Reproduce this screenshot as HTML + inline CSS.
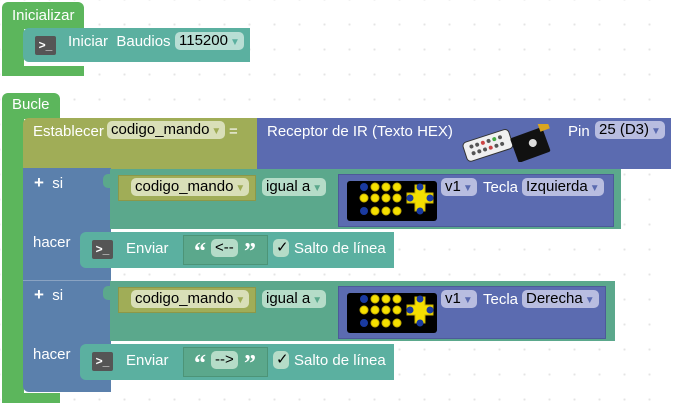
<!DOCTYPE html>
<html><head><meta charset="utf-8"><style>
*{margin:0;padding:0;box-sizing:border-box}
body{width:673px;height:409px;position:relative;overflow:hidden;background:#fff;
background-image:radial-gradient(circle,#e4e4e4 1px,transparent 1.2px);background-size:25px 25px;background-position:12px 12px;
font-family:"Liberation Sans",sans-serif;font-size:15px;color:#fff}
.a{position:absolute}
.g{background:#5cb65c}
.t{background:#5bb0a0}
.tc{background:#5ba88c}
.o{background:#a0ad57}
.b{background:#5b6bb0}
.bl{background:#5b80ac}
.lb{position:absolute;white-space:nowrap;line-height:17px}
.dd{position:absolute;border-radius:5px;color:#000;line-height:18px;height:18px;padding:0 4px;white-space:nowrap}
.ic{position:absolute;width:21px;height:19px;background:#555;border-radius:2px;color:#fff;font-weight:bold;font-size:12px;line-height:19px;text-align:center}
.arr{font-size:10px;margin-left:2px}
.q{position:absolute;font-family:"Liberation Serif",serif;font-weight:bold;font-size:24px;line-height:24px}
</style></head><body>
<!-- Inicializar -->
<div class="a g" style="left:2px;top:2px;width:82px;height:27px;border-radius:6px 6px 0 0"></div>
<div class="a g" style="left:2px;top:28px;width:22px;height:48px"></div>
<div class="a g" style="left:2px;top:66px;width:82px;height:10px;border-radius:0 0 0 6px"></div>
<div class="lb" style="left:12px;top:7px">Inicializar</div>
<div class="a t" style="left:23px;top:28px;width:227px;height:34px;border-radius:6px 0 0 6px"></div>
<div class="ic" style="left:35px;top:36px">&gt;_</div>
<div class="lb" style="left:68px;top:33px">Iniciar&nbsp; Baudios</div>
<div class="dd" style="left:175px;top:32px;background:#b8ded4">115200<span class="arr" style="color:#5bb0a0">▼</span></div>

<!-- Bucle -->
<div class="a g" style="left:2px;top:93px;width:58px;height:26px;border-radius:6px 6px 0 0"></div>
<div class="a g" style="left:2px;top:118px;width:22px;height:285px"></div>
<div class="a g" style="left:2px;top:393px;width:58px;height:10px;border-radius:0 0 0 6px"></div>
<div class="lb" style="left:12px;top:96px">Bucle</div>

<!-- Establecer -->
<div class="a o" style="left:23px;top:118px;width:235px;height:51px;border-radius:6px 0 0 0"></div>
<div class="lb" style="left:33px;top:123px">Establecer</div>
<div class="dd" style="left:107px;top:121px;background:#d9dfb8">codigo_mando<span class="arr" style="color:#a0ad57">▼</span></div>
<div class="lb" style="left:229px;top:123px">=</div>
<div class="a b" style="left:257px;top:118px;width:414px;height:51px"></div>
<div class="a o" style="left:249px;top:124px;width:8px;height:14px;border-radius:0 5px 5px 0"></div>
<div class="lb" style="left:267px;top:123px">Receptor de IR (Texto HEX)</div>
<svg class="a" style="left:458px;top:124px" width="105" height="38">
<g transform="rotate(-18 28 22)"><rect x="6" y="12" width="48" height="20" rx="4" fill="#f0f0f0" stroke="#333"/>
<g fill="#555"><circle cx="14" cy="18" r="2"/><circle cx="20" cy="18" r="2"/><circle cx="26" cy="18" r="2" fill="#c44"/><circle cx="32" cy="18" r="2"/><circle cx="38" cy="18" r="2" fill="#4a4"/><circle cx="44" cy="18" r="2"/><circle cx="14" cy="25" r="2"/><circle cx="20" cy="25" r="2"/><circle cx="26" cy="25" r="2"/><circle cx="32" cy="25" r="2" fill="#c44"/><circle cx="38" cy="25" r="2"/><circle cx="44" cy="25" r="2"/></g></g>
<g transform="rotate(-20 72 20)"><rect x="55" y="8" width="34" height="26" rx="2" fill="#111"/><circle cx="75" cy="20" r="4" fill="#ddd"/><rect x="86" y="4" width="10" height="8" fill="#d9a520"/></g>
</svg>
<div class="lb" style="left:568px;top:123px">Pin</div>
<div class="dd" style="left:595px;top:121px;background:#b8bde0">25 (D3)<span class="arr" style="color:#5b6bb0">▼</span></div>

<!-- si blocks -->
<div class="a bl" style="left:23px;top:168px;width:88px;height:224px;border-radius:0 0 0 6px"></div>
<div class="a" style="left:23px;top:280px;width:88px;height:1px;background:#8aa3c2"></div>

<!-- si 1 -->
<div class="lb" style="left:34px;top:174px"><b style="font-size:17px">+</b>&nbsp; si</div>
<div class="a tc" style="left:110px;top:169px;width:511px;height:60px"></div>
<div class="a tc" style="left:103px;top:174px;width:8px;height:14px;border-radius:5px 0 0 5px"></div>
<div class="a o" style="left:118px;top:175px;width:138px;height:26px;border:1px solid #8c9848"></div>
<div class="dd" style="left:131px;top:178px;background:#d9dfb8">codigo_mando<span class="arr" style="color:#a0ad57">▼</span></div>
<div class="dd" style="left:262px;top:178px;background:#b5dcc8">igual a<span class="arr" style="color:#5ba88c">▼</span></div>
<div class="a b" style="left:338px;top:174px;width:276px;height:53px;border:1px solid #4d5a99"></div>

<svg class="a" style="left:347px;top:181px" width="90" height="40"><rect width="90" height="40" rx="3" fill="#000"/>
<g fill="#f5e000" stroke="#c9b000"><circle cx="28" cy="6" r="4"/><circle cx="39" cy="6" r="4"/><circle cx="50" cy="6" r="4"/><circle cx="17" cy="17" r="4"/><circle cx="28" cy="17" r="4"/><circle cx="39" cy="17" r="4"/><circle cx="50" cy="17" r="4"/><circle cx="28" cy="30" r="4"/><circle cx="39" cy="30" r="4"/><circle cx="50" cy="30" r="4"/><path d="M60 12h8v-8h10v8h8v10h-8v8h-10v-8h-8z"/></g>
<g fill="#1a3aa0"><circle cx="17" cy="6" r="4"/><circle cx="17" cy="30" r="4"/><circle cx="73" cy="6" r="3.5"/><circle cx="73" cy="30" r="3.5"/><circle cx="63" cy="17" r="3.5"/><circle cx="83" cy="17" r="3.5"/></g></svg>
<div class="dd" style="left:441px;top:178px;background:#b8bde0">v1<span class="arr" style="color:#5b6bb0">▼</span></div>
<div class="lb" style="left:483px;top:179px">Tecla</div>
<div class="dd" style="left:522px;top:178px;background:#b8bde0">Izquierda<span class="arr" style="color:#5b6bb0">▼</span></div>

<div class="lb" style="left:33px;top:234px">hacer</div>
<div class="a t" style="left:80px;top:232px;width:314px;height:36px;border-radius:6px 0 0 6px"></div>
<div class="ic" style="left:92px;top:240px">&gt;_</div>
<div class="lb" style="left:126px;top:240px">Enviar</div>
<div class="a tc" style="left:183px;top:235px;width:85px;height:30px;border:1px solid #4c9477"></div>
<div class="q" style="left:194px;top:240px">“</div>
<div class="dd" style="left:211px;top:239px;background:#b5dcc8">&lt;--</div>
<div class="q" style="left:244px;top:240px">”</div>
<div class="dd" style="left:273px;top:239px;background:#b5dcc8;padding:0 3px;width:16px">✓</div>
<div class="lb" style="left:294px;top:240px">Salto de línea</div>

<!-- si 2 -->
<div class="lb" style="left:34px;top:286px"><b style="font-size:17px">+</b>&nbsp; si</div>
<div class="a tc" style="left:110px;top:281px;width:505px;height:60px"></div>
<div class="a tc" style="left:103px;top:286px;width:8px;height:14px;border-radius:5px 0 0 5px"></div>
<div class="a o" style="left:118px;top:287px;width:138px;height:26px;border:1px solid #8c9848"></div>
<div class="dd" style="left:131px;top:290px;background:#d9dfb8">codigo_mando<span class="arr" style="color:#a0ad57">▼</span></div>
<div class="dd" style="left:262px;top:290px;background:#b5dcc8">igual a<span class="arr" style="color:#5ba88c">▼</span></div>
<div class="a b" style="left:338px;top:286px;width:268px;height:53px;border:1px solid #4d5a99"></div>
<svg class="a" style="left:347px;top:293px" width="90" height="40"><rect width="90" height="40" rx="3" fill="#000"/>
<g fill="#f5e000" stroke="#c9b000"><circle cx="28" cy="6" r="4"/><circle cx="39" cy="6" r="4"/><circle cx="50" cy="6" r="4"/><circle cx="17" cy="17" r="4"/><circle cx="28" cy="17" r="4"/><circle cx="39" cy="17" r="4"/><circle cx="50" cy="17" r="4"/><circle cx="28" cy="30" r="4"/><circle cx="39" cy="30" r="4"/><circle cx="50" cy="30" r="4"/><path d="M60 12h8v-8h10v8h8v10h-8v8h-10v-8h-8z"/></g>
<g fill="#1a3aa0"><circle cx="17" cy="6" r="4"/><circle cx="17" cy="30" r="4"/><circle cx="73" cy="6" r="3.5"/><circle cx="73" cy="30" r="3.5"/><circle cx="63" cy="17" r="3.5"/><circle cx="83" cy="17" r="3.5"/></g></svg>
<div class="dd" style="left:441px;top:290px;background:#b8bde0">v1<span class="arr" style="color:#5b6bb0">▼</span></div>
<div class="lb" style="left:483px;top:291px">Tecla</div>
<div class="dd" style="left:522px;top:290px;background:#b8bde0">Derecha<span class="arr" style="color:#5b6bb0">▼</span></div>

<div class="lb" style="left:33px;top:346px">hacer</div>
<div class="a t" style="left:80px;top:344px;width:314px;height:36px;border-radius:6px 0 0 6px"></div>
<div class="ic" style="left:92px;top:352px">&gt;_</div>
<div class="lb" style="left:126px;top:352px">Enviar</div>
<div class="a tc" style="left:183px;top:347px;width:85px;height:30px;border:1px solid #4c9477"></div>
<div class="q" style="left:194px;top:352px">“</div>
<div class="dd" style="left:211px;top:351px;background:#b5dcc8">--&gt;</div>
<div class="q" style="left:244px;top:352px">”</div>
<div class="dd" style="left:273px;top:351px;background:#b5dcc8;padding:0 3px;width:16px">✓</div>
<div class="lb" style="left:294px;top:352px">Salto de línea</div>
</body></html>
